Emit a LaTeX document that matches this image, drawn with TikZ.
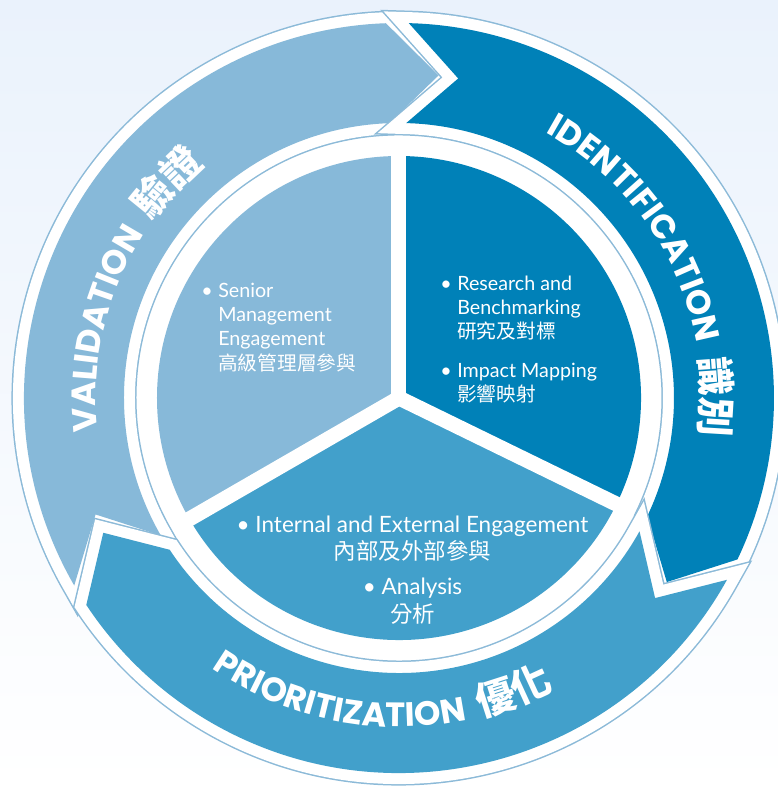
\documentclass[tikz,border=0pt]{standalone}
\usepackage{fontspec}
\setmainfont{Lato}
\newfontfamily\cjk{Noto Sans CJK TC}
\newfontfamily\labelfont{Poppins}
\usetikzlibrary{decorations.text}
\definecolor{lightblue}{RGB}{135,185,217}
\definecolor{darkblue}{RGB}{0,129,184}
\definecolor{midblue}{RGB}{66,160,203}
\definecolor{rimblue}{RGB}{140,186,216}
\definecolor{bgblue}{RGB}{234,242,252}
\newcommand\lbl{\labelfont\bfseries\fontsize{24}{24}\selectfont\color{white}}
\newcommand\lblcjk{\cjk\bfseries\fontsize{28}{28}\selectfont\color{white}}
\newcommand\body{\fontsize{14}{17.4}\selectfont\color{white}}
\newcommand\bodybig{\fontsize{16}{19.9}\selectfont\color{white}}
\begin{document}
\begin{tikzpicture}[x=0.25mm, y=0.25mm,
	arrowseg/.style={fill=#1, preaction={draw=rimblue, line width=6.25mm}, preaction={draw=white, line width=5.5mm}},
	ringtext/.style={decorate, decoration={text along path, text align=center, text={#1}}}]
	\def\ri{275}\def\ro{375}\def\rc{325}\def\rp{242}
	\useasboundingbox (-399,-388) rectangle (379,398);
	\shade[top color=bgblue, bottom color=white] (-399,-388) rectangle (379,398);
	\fill[white] (0,0) circle (265);
	% three arrows of the cycle
	\foreach \t/\h/\col in {210/88.5/lightblue, 88.5/-29/darkblue, 331/210/midblue}
		\path[arrowseg=\col] (\t:\ro) arc[start angle=\t, end angle={\h+3.5}, radius=\ro] -- ({\h-5.5}:\rc)
			-- ({\h+3.5}:\ri) arc[start angle={\h+3.5}, end angle=\t, radius=\ri] -- ({\t-9}:\rc) -- cycle;
	% inner pie
	\fill[lightblue] (0,0) -- (90:\rp) arc[start angle=90, end angle=210, radius=\rp] -- cycle;
	\fill[darkblue] (0,0) -- (-26:\rp) arc[start angle=-26, end angle=90, radius=\rp] -- cycle;
	\fill[midblue] (0,0) -- (210:\rp) arc[start angle=210, end angle=334, radius=\rp] -- cycle;
	\foreach \a in {90,210,-26}\draw[white, line width=3.75mm] (0,0) -- (\a:250);
	% labels on the ring
	\path[ringtext={|\lbl|VALIDATION{\hspace{10pt}}|\lblcjk|驗證}] (208:303) arc[start angle=208, end angle=108, radius=303];
	\path[ringtext={|\lbl|IDENTIFICATION{\hspace{10pt}}|\lblcjk|識別}] (77:303) arc[start angle=77, end angle=-23, radius=303];
	\path[ringtext={|\lbl|PRIORITIZATION{\hspace{10pt}}|\lblcjk|優化}] (216.7:329) arc[start angle=216.7, end angle=316.7, radius=329];
	% texts in the pie
	\node[anchor=base west, inner sep=0] (senior) at (-198,101) {\body\begin{tabular}[t]{@{}l@{\hspace{4pt}}l@{}}
		\textbullet & Senior\\ & Management\\ & Engagement\\ & \cjk 高級管理層參與\end{tabular}};
	\node[anchor=base west, inner sep=0] (research) at (41,108) {\body\begin{tabular}[t]{@{}l@{\hspace{4pt}}l@{}}
		\textbullet & Research and\\ & Benchmarking\\ & \cjk 研究及對標\\[10pt]
		\textbullet & Impact Mapping\\ & \cjk 影響映射\end{tabular}};
	\node[anchor=base, inner sep=0] (internal) at (13.5,-134) {\bodybig\begin{tabular}[t]{@{}c@{}}
		\textbullet\ Internal and External Engagement\\ \cjk 內部及外部參與\\[5pt]
		\textbullet\ Analysis\\ \cjk 分析\end{tabular}};
\end{tikzpicture}
\end{document}
